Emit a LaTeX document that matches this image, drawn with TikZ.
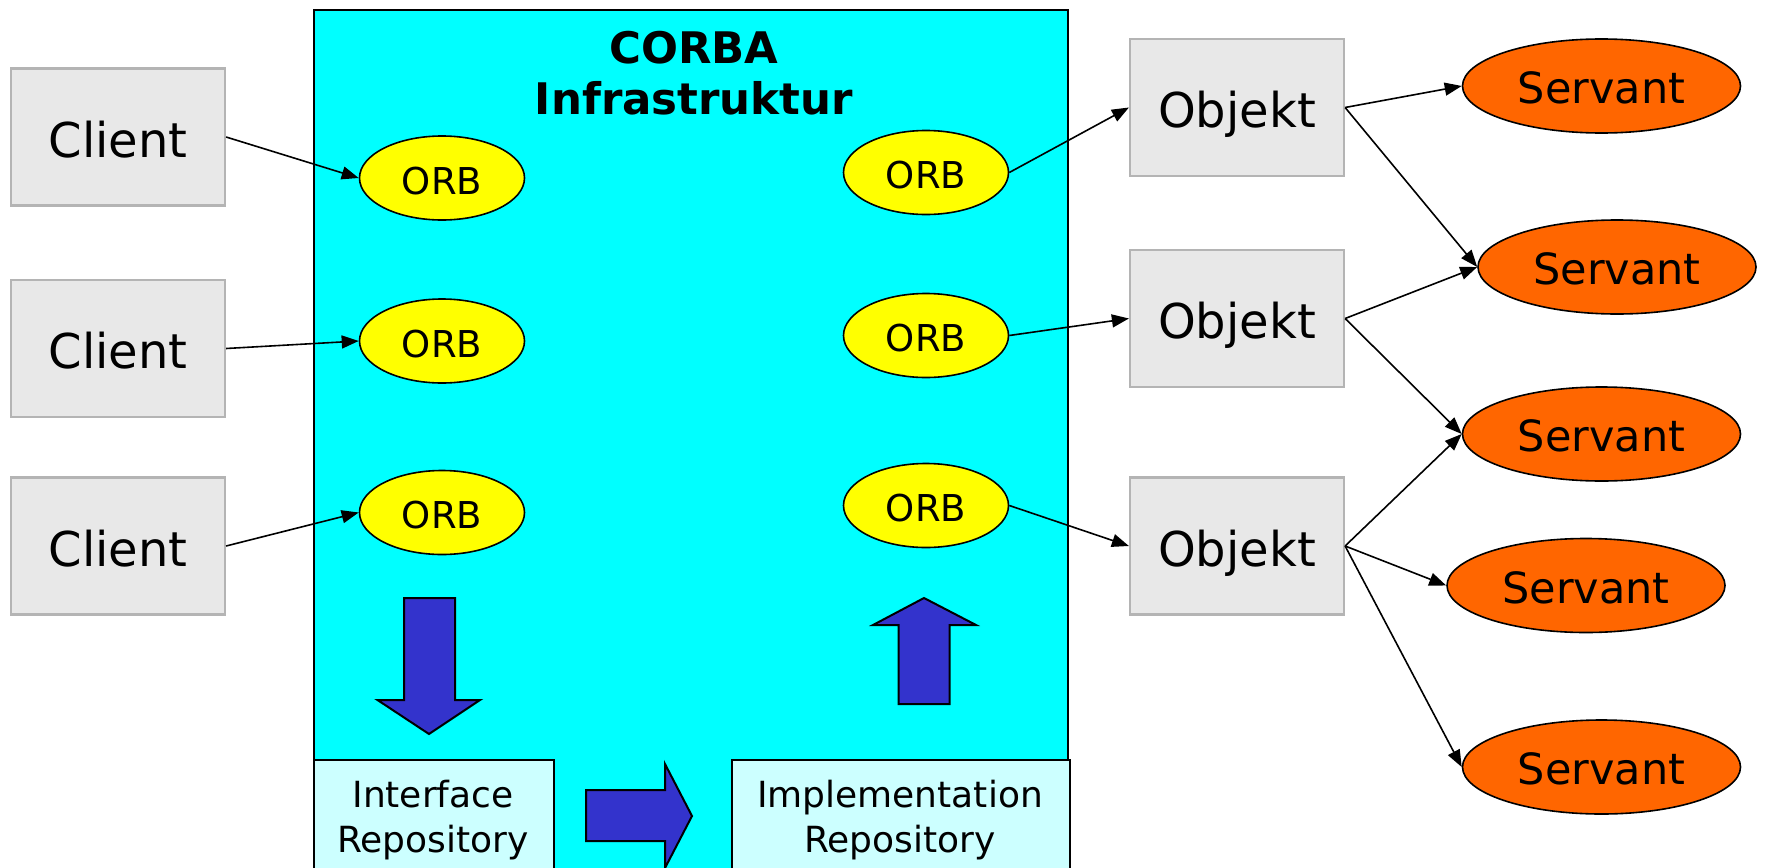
\documentclass[tikz,border=0pt]{standalone}
\usepackage{fontspec}
\setmainfont{DejaVu Sans}
\usetikzlibrary{shapes.geometric,arrows.meta}
\definecolor{cyanbg}{HTML}{00FFFF}
\definecolor{orbyellow}{HTML}{FFFF00}
\definecolor{servorange}{HTML}{FF6600}
\definecolor{boxgray}{HTML}{E8E8E8}
\definecolor{boxborder}{HTML}{B4B4B4}
\definecolor{repofill}{HTML}{CCFFFF}
\definecolor{blockblue}{HTML}{3333CC}
\begin{document}
\begin{tikzpicture}[x=1pt,y=-1pt,
  graybox/.style={draw=boxborder, line width=2.2pt, fill=boxgray, minimum width=214pt, minimum height=137pt, inner sep=0pt, font=\fontsize{48}{58}\selectfont, text height=40pt, text depth=0pt},
  orb/.style={ellipse, draw=black, line width=1.6pt, fill=orbyellow, minimum width=165pt, minimum height=84pt, inner sep=0pt, font=\fontsize{37}{44}\selectfont, text height=32pt, text depth=0pt},
  servant/.style={ellipse, draw=black, line width=1.6pt, fill=servorange, minimum width=278pt, minimum height=94pt, inner sep=0pt, font=\fontsize{43}{52}\selectfont, text height=35pt, text depth=0pt},
  repo/.style={draw=black, line width=1.6pt, fill=repofill, anchor=north west, inner sep=0pt},
  repotext/.style={font=\fontsize{36}{45}\selectfont, align=center, anchor=base},
  conn/.style={draw=black, line width=1.6pt, -{Triangle[length=17pt,width=13pt]}},
  blockarrow/.style={draw=black, line width=2pt, fill=blockblue, line join=miter}
]
\useasboundingbox (0,0) rectangle (1766,867);
\begin{scope}
\clip (0,0) rectangle (1766,867);
% infrastructure box
\node[draw=black, line width=1.6pt, fill=cyanbg, anchor=north west, minimum width=754pt, minimum height=900pt, inner sep=0pt] (corba) at (313,9) {};
\node[font=\fontsize{43.5}{51}\selectfont\bfseries, align=center, anchor=base] (title) at (694,114) {CORBA\\Infrastruktur};

% clients
\node[graybox] (cl1) at (118,137) {Client};
\node[graybox] (cl2) at (118,348.5) {Client};
\node[graybox] (cl3) at (118,546) {Client};

% ORBs
\node[orb] (ol1) at (442,178) {ORB};
\node[orb] (ol2) at (442,341) {ORB};
\node[orb] (ol3) at (442,512.5) {ORB};
\node[orb] (or1) at (926,172.5) {ORB};
\node[orb] (or2) at (926,335.5) {ORB};
\node[orb] (or3) at (926,505.5) {ORB};

% objects
\node[graybox] (ob1) at (1237,107.5) {Objekt};
\node[graybox] (ob2) at (1237,318.5) {Objekt};
\node[graybox] (ob3) at (1237,546) {Objekt};

% servants
\node[servant] (s1) at (1601.5,86) {Servant};
\node[servant] (s2) at (1617,267) {Servant};
\node[servant] (s3) at (1601.5,434) {Servant};
\node[servant] (s4) at (1586,585.5) {Servant};
\node[servant] (s5) at (1601.5,767) {Servant};

% repositories
\node[repo, minimum width=240pt, minimum height=150pt] (ir) at (313,759) {};
\node[repotext] (irt) at (433,852) {Interface\\Repository};
\node[repo, minimum width=338pt, minimum height=150pt] (imr) at (731,759) {};
\node[repotext] (imrt) at (900,852) {Implementation\\Repository};

% block arrows
\draw[blockarrow] (404,598) -- (455,598) -- (455,700) -- (480,700) -- (429,734) -- (377.5,700) -- (404,700) -- cycle;
\draw[blockarrow] (898.5,704) -- (949.5,704) -- (949.5,625) -- (976,625) -- (924,598) -- (873,625) -- (898.5,625) -- cycle;
\draw[blockarrow] (586,790) -- (665,790) -- (665,764) -- (692,816) -- (665,868) -- (665,841) -- (586,841) -- cycle;

% connectors
\draw[conn] (cl1.east) -- (ol1.west);
\draw[conn] (cl2.east) -- (ol2.west);
\draw[conn] (cl3.east) -- (ol3.west);
\draw[conn] (or1.east) -- (ob1.west);
\draw[conn] (or2.east) -- (ob2.west);
\draw[conn] (or3.east) -- (ob3.west);
\draw[conn] (ob1.east) -- (s1.west);
\draw[conn] (ob1.east) -- (s2.west);
\draw[conn] (ob2.east) -- (s2.west);
\draw[conn] (ob2.east) -- (s3.west);
\draw[conn] (ob3.east) -- (s3.west);
\draw[conn] (ob3.east) -- (s4.west);
\draw[conn] (ob3.east) -- (s5.west);
\end{scope}
\end{tikzpicture}
\end{document}
